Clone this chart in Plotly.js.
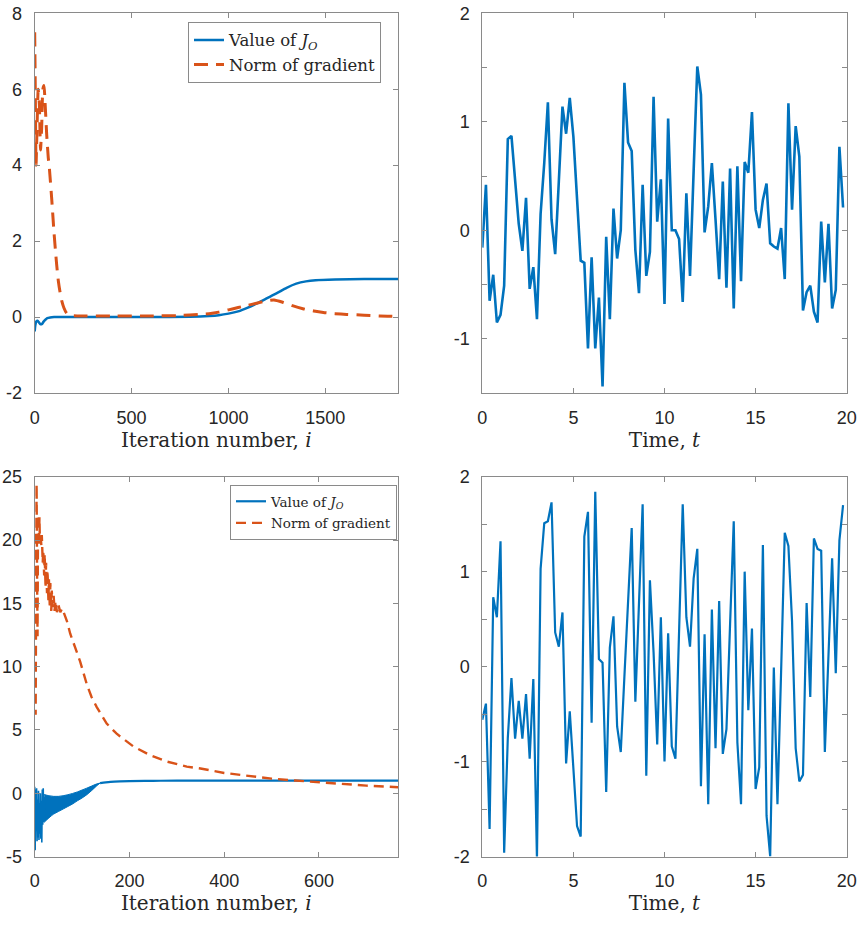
<!DOCTYPE html>
<html>
<head>
<meta charset="utf-8">
<script src="https://cdn.plot.ly/plotly-3.0.1.min.js"></script>
<style>
  html, body { margin: 0; padding: 0; background: #ffffff; }
  #chart { width: 864px; height: 949px; }
</style>
</head>
<body>
<div id="chart"></div>
<script>
// ---------- Run A: optimisation history ----------
const iterA_J = [0, 3, 8, 15, 22, 30, 38, 46, 55, 65, 80, 100, 300, 600, 800, 900, 950, 1000, 1050, 1100, 1150, 1200, 1250, 1300, 1350, 1400, 1450, 1550, 1700, 1875];
const valA_J  = [-0.38, -0.22, -0.12, -0.1, -0.14, -0.19, -0.18, -0.12, -0.07, -0.03, -0.01, 0.0, 0.0, 0.0, 0.01, 0.03, 0.05, 0.09, 0.15, 0.25, 0.37, 0.5, 0.63, 0.77, 0.88, 0.94, 0.97, 0.99, 1.0, 1.0];

const iterA_G = [0, 3, 7, 12, 18, 24, 30, 36, 42, 48, 54, 62, 70, 76, 88, 100, 113, 122, 131, 140, 151, 165, 182, 220, 400, 600, 750, 850, 900, 950, 1000, 1050, 1100, 1150, 1200, 1235, 1280, 1330, 1384, 1440, 1490, 1550, 1610, 1700, 1780, 1875];
const valA_G  = [7.5, 6.0, 4.0, 5.0, 6.0, 5.6, 4.4, 5.0, 6.0, 6.1, 5.6, 4.8, 4.2, 3.9, 3.1, 2.2, 1.4, 0.95, 0.65, 0.42, 0.24, 0.1, 0.04, 0.03, 0.03, 0.03, 0.04, 0.07, 0.09, 0.13, 0.19, 0.25, 0.31, 0.37, 0.43, 0.45, 0.39, 0.3, 0.22, 0.16, 0.12, 0.09, 0.07, 0.05, 0.03, 0.02];

// ---------- Run A: input signal ----------
const timeA = [0, 0.2, 0.4, 0.6, 0.8, 1, 1.2, 1.4, 1.6, 1.8, 2, 2.2, 2.4, 2.6, 2.8, 3, 3.2, 3.4, 3.6, 3.8,
  4, 4.2, 4.4, 4.6, 4.8, 5, 5.2, 5.4, 5.6, 5.8, 6, 6.2, 6.4, 6.6, 6.8, 7, 7.2, 7.4, 7.6, 7.8,
  8, 8.2, 8.4, 8.6, 8.8, 9, 9.2, 9.4, 9.6, 9.8, 10, 10.2, 10.4, 10.6, 10.8, 11, 11.2, 11.4, 11.6, 11.8,
  12, 12.2, 12.4, 12.6, 12.8, 13, 13.2, 13.4, 13.6, 13.8, 14, 14.2, 14.4, 14.6, 14.8, 15, 15.2, 15.4, 15.6, 15.8,
  16, 16.2, 16.4, 16.6, 16.8, 17, 17.2, 17.4, 17.6, 17.8, 18, 18.2, 18.4, 18.6, 18.8, 19, 19.2, 19.4, 19.6, 19.8];
const sigA = [-0.16, 0.42, -0.65, -0.41, -0.85, -0.78, -0.51, 0.84, 0.87, 0.46, 0.06, -0.19, 0.30, -0.54, -0.34, -0.82, 0.15, 0.62, 1.18, 0.10,
  -0.22, 0.45, 1.14, 0.89, 1.22, 0.86, 0.30, -0.28, -0.30, -1.09, -0.25, -1.09, -0.62, -1.44, -0.06, -0.82, 0.20, -0.26, 0.00, 1.36,
  0.81, 0.73, -0.18, -0.58, 0.42, -0.42, -0.20, 1.23, 0.08, 0.47, -0.68, 1.03, 0.00, 0.00, -0.08, -0.66, 0.34, -0.42, 0.55, 1.51,
  1.25, -0.02, 0.22, 0.62, 0.10, -0.45, 0.45, -0.53, 0.57, -0.72, 0.59, -0.47, 0.63, 0.53, 1.09, 0.19, 0.02, 0.28, 0.43, -0.12,
  -0.15, -0.17, 0.02, -0.45, 1.17, 0.19, 0.96, 0.68, -0.74, -0.57, -0.51, -0.75, -0.85, 0.08, -0.48, 0.06, -0.72, -0.55, 0.77, 0.21];

// ---------- Run B: optimisation history ----------
// early, strongly oscillating iterations of the objective
const iterB_Jearly = [0, 1, 2, 3, 4, 5, 6, 7, 8, 9, 10, 11, 12, 13, 14, 15, 16, 17, 18, 19, 20, 21, 22];
const valB_Jearly  = [0.5, -4.5, 0.3, -3.0, 0.4, -3.8, -0.5, -3.5, 0.2, -3.7, -0.8, -3.2, 0.0, -3.6, -0.6, -3.9, 0.3, -2.5, 0.4, -2.3, -0.3, -2.2, -0.3];
// envelope of the fast oscillation while it settles
const iterB_band  = [20, 30, 40, 50, 60, 70, 80, 90, 100, 110, 120, 130, 138];
const upperB_band = [-0.1, -0.2, -0.25, -0.25, -0.2, -0.12, -0.02, 0.1, 0.25, 0.4, 0.56, 0.72, 0.8];
const lowerB_band = [-2.3, -1.95, -1.65, -1.45, -1.25, -1.05, -0.85, -0.6, -0.38, -0.12, 0.2, 0.55, 0.8];
// settled objective
const iterB_J = [138, 150, 160, 180, 200, 250, 300, 400, 500, 600, 700, 767];
const valB_J  = [0.8, 0.86, 0.9, 0.94, 0.96, 0.98, 0.99, 1.0, 1.0, 1.0, 1.0, 1.0];

const iterB_G = [0, 1, 2, 3, 4, 5, 6, 7, 8, 9, 10, 11, 12, 14, 15, 17, 18, 20, 21, 23, 24, 26, 27, 29, 30, 32, 33, 35, 36, 38, 40, 42, 44, 47, 50, 54, 58, 62, 68,
  75, 85, 96, 110, 120, 131, 152, 173, 208, 244, 279, 321, 350, 400, 450, 500, 550, 600, 650, 700, 767];
const valB_G  = [20.5, 13, 6.2, 16, 24.4, 17, 12.4, 21.5, 22.0, 19.5, 21.8, 19.8, 20.6, 19.6, 20.4, 18.2, 19.2, 17.2, 18.9, 16.2, 18.2, 15.8, 17.6, 15.2, 16.9, 14.6, 16.6, 14.4, 16.0, 14.7, 15.6, 14.4, 15.2, 14.3, 14.9, 14.3, 14.6, 14.2, 13.6,
  12.6, 11.6, 10.4, 8.6, 7.6, 6.8, 5.5, 4.7, 3.7, 3.0, 2.5, 2.1, 1.95, 1.6, 1.35, 1.15, 1.0, 0.85, 0.72, 0.6, 0.47];

// ---------- Run B: input signal ----------
const timeB = timeA;
const sigB = [-0.56, -0.39, -1.71, 0.73, 0.52, 1.32, -1.96, -0.75, -0.12, -0.76, -0.36, -0.76, -0.29, -0.97, -0.13, -2.03, 1.03, 1.51, 1.53, 1.73,
  0.36, 0.21, 0.57, -1.02, -0.47, -1.10, -1.68, -1.79, 1.37, 1.63, -0.59, 1.84, 0.08, 0.04, -1.32, 0.20, 0.53, -0.63, -0.90, -0.10,
  0.66, 1.46, -0.37, 0.66, 1.71, -1.15, 0.91, 0.15, -0.82, 0.52, -1.00, 0.35, -0.84, -0.97, 0.35, 1.71, 0.52, 0.21, 0.93, 1.24,
  -1.26, 0.34, -1.45, 0.60, -0.86, 0.69, -0.92, -0.66, 0.45, 1.53, -0.80, -1.45, 1.00, -0.46, 0.40, -1.29, -1.06, 1.28, -1.57, -2.00,
  -0.01, -1.45, -0.05, 1.41, 1.27, 0.48, -0.86, -1.21, -1.14, 0.67, -0.32, 1.35, 1.24, 1.22, -0.90, 0.10, 1.14, -0.07, 1.33, 1.70];

// ---------- styling ----------
const BLUE = '#0072BD';
const ORANGE = '#D95319';
const SERIF = 'DejaVu Serif, Liberation Serif, serif';
const SANS = 'Liberation Sans, Arial, sans-serif';
const AXIS_GREY = '#8a8a8a';

const baseAxis = {
  showline: true, linecolor: AXIS_GREY, linewidth: 1, mirror: 'ticks',
  ticks: 'inside', ticklen: 5, tickwidth: 1, tickcolor: AXIS_GREY,
  showgrid: false, zeroline: false, automargin: false, fixedrange: true,
  ticklabelstandoff: 8,
  tickfont: { family: SANS, size: 18, color: '#262626' }
};
const halfTicks = { dtick: 0.5, tick0: 0, ticks: 'inside', ticklen: 5, tickwidth: 1, tickcolor: AXIS_GREY, showgrid: false };
const xTitle = (txt, gap) => ({ text: txt, font: { family: SERIF, size: 20, color: '#262626' }, standoff: gap });

const LEFT = [34.7 / 864, 398 / 864];
const RIGHT = [482.3 / 864, 846.7 / 864];
const TOP = [1 - 393 / 949, 1 - 13.3 / 949];
const BOTTOM = [1 - 856.5 / 949, 1 - 476.7 / 949];

const traces = [
  // top-left
  { x: iterA_J, y: valA_J, xaxis: 'x', yaxis: 'y', type: 'scatter', mode: 'lines', name: 'Value of <i>J</i><sub><i>O</i></sub>',
    line: { color: BLUE, width: 2.5, shape: 'spline', smoothing: 0.6 }, legend: 'legend' },
  { x: iterA_G, y: valA_G, xaxis: 'x', yaxis: 'y', type: 'scatter', mode: 'lines', name: 'Norm of gradient',
    line: { color: ORANGE, width: 3, dash: '14px,8px', shape: 'spline', smoothing: 0.5 }, legend: 'legend' },
  // top-right
  { x: timeA, y: sigA, xaxis: 'x2', yaxis: 'y2', type: 'scatter', mode: 'lines', showlegend: false,
    line: { color: BLUE, width: 2.6 } },
  // bottom-left: oscillation envelope
  { x: iterB_band, y: lowerB_band, xaxis: 'x3', yaxis: 'y3', type: 'scatter', mode: 'lines', showlegend: false,
    line: { color: BLUE, width: 1, shape: 'spline' }, hoverinfo: 'skip' },
  { x: iterB_band, y: upperB_band, xaxis: 'x3', yaxis: 'y3', type: 'scatter', mode: 'lines', showlegend: false,
    fill: 'tonexty', fillcolor: BLUE, line: { color: BLUE, width: 1, shape: 'spline' }, hoverinfo: 'skip' },
  { x: iterB_Jearly, y: valB_Jearly, xaxis: 'x3', yaxis: 'y3', type: 'scatter', mode: 'lines', showlegend: false,
    line: { color: BLUE, width: 1.6 } },
  { x: iterB_J, y: valB_J, xaxis: 'x3', yaxis: 'y3', type: 'scatter', mode: 'lines', name: 'Value of <i>J</i><sub><i>O</i></sub>',
    line: { color: BLUE, width: 2.2, shape: 'spline' }, legend: 'legend2', legendgroup: 'j' },
  { x: iterB_G, y: valB_G, xaxis: 'x3', yaxis: 'y3', type: 'scatter', mode: 'lines', name: 'Norm of gradient',
    line: { color: ORANGE, width: 2.4, dash: '10px,6px' }, legend: 'legend2', legendgroup: 'g' },
  // bottom-right
  { x: timeB, y: sigB, xaxis: 'x4', yaxis: 'y4', type: 'scatter', mode: 'lines', showlegend: false,
    line: { color: BLUE, width: 2.2 } }
];

const layout = {
  width: 864, height: 949,
  margin: { l: 0, r: 0, t: 0, b: 0, pad: 0 },
  paper_bgcolor: '#ffffff', plot_bgcolor: '#ffffff',
  showlegend: true,
  xaxis: Object.assign({}, baseAxis, { domain: LEFT, anchor: 'y', range: [0, 1875], tickvals: [0, 500, 1000, 1500],
    ticktext: ['0', '500', '1000', '1500'], title: xTitle('Iteration number, <i>i</i>', 0) }),
  yaxis: Object.assign({}, baseAxis, { domain: TOP, anchor: 'x', range: [-2, 8], tickvals: [-2, 0, 2, 4, 6, 8],
    ticktext: ['-2', '0', '2', '4', '6', '8'] }),
  xaxis2: Object.assign({}, baseAxis, { domain: RIGHT, anchor: 'y2', range: [0, 20], tickvals: [0, 5, 10, 15, 20],
    ticktext: ['0', '5', '10', '15', '20'], title: xTitle('Time, <i>t</i>', 0) }),
  yaxis2: Object.assign({}, baseAxis, { domain: TOP, anchor: 'x2', range: [-1.5, 2], tickvals: [-1, 0, 1, 2],
    ticktext: ['-1', '0', '1', '2'], minor: halfTicks }),
  xaxis3: Object.assign({}, baseAxis, { domain: LEFT, anchor: 'y3', range: [0, 767], tickvals: [0, 200, 400, 600],
    ticktext: ['0', '200', '400', '600'], title: xTitle('Iteration number, <i>i</i>', 4) }),
  yaxis3: Object.assign({}, baseAxis, { domain: BOTTOM, anchor: 'x3', range: [-5, 25], tickvals: [-5, 0, 5, 10, 15, 20, 25],
    ticktext: ['-5', '0', '5', '10', '15', '20', '25'] }),
  xaxis4: Object.assign({}, baseAxis, { domain: RIGHT, anchor: 'y4', range: [0, 20], tickvals: [0, 5, 10, 15, 20],
    ticktext: ['0', '5', '10', '15', '20'], title: xTitle('Time, <i>t</i>', 4) }),
  yaxis4: Object.assign({}, baseAxis, { domain: BOTTOM, anchor: 'x4', range: [-2, 2], tickvals: [-2, -1, 0, 1, 2],
    ticktext: ['-2', '-1', '0', '1', '2'], minor: halfTicks }),
  legend: {
    x: 188 / 864, y: 1 - 21.7 / 949, xanchor: 'left', yanchor: 'top',
    bgcolor: '#ffffff', bordercolor: AXIS_GREY, borderwidth: 1,
    font: { family: SERIF, size: 16.5, color: '#262626' },
    traceorder: 'normal', tracegroupgap: 0, itemwidth: 30
  },
  legend2: {
    x: 230 / 864, y: 1 - 485 / 949, xanchor: 'left', yanchor: 'top',
    bgcolor: '#ffffff', bordercolor: AXIS_GREY, borderwidth: 1,
    font: { family: SERIF, size: 13.5, color: '#262626' },
    traceorder: 'grouped', tracegroupgap: 1, itemwidth: 30
  }
};

Plotly.newPlot('chart', traces, layout, { displayModeBar: false, staticPlot: true });
</script>
</body>
</html>
